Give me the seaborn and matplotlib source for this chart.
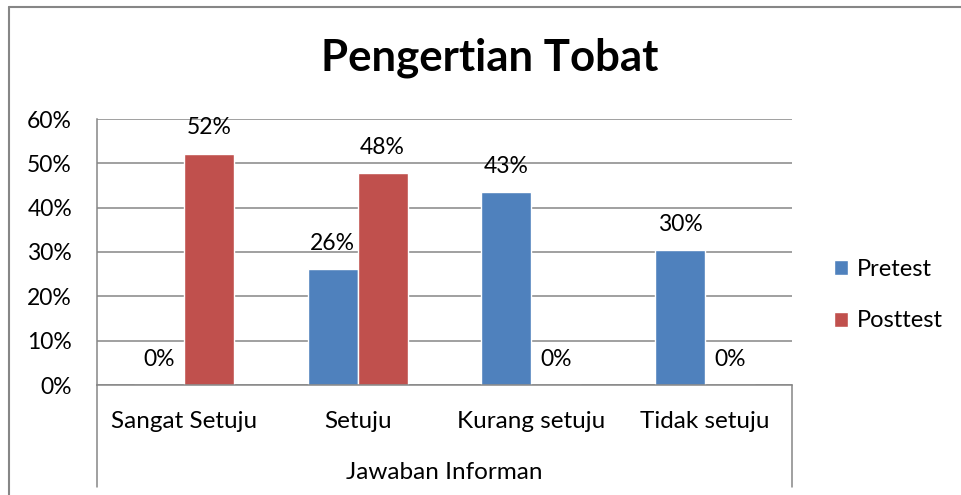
import matplotlib
matplotlib.use("Agg")
from matplotlib import pyplot as plt
from matplotlib.lines import Line2D
import pandas as pd
import seaborn as sns

# Data
categories = ["Sangat Setuju", "Setuju", "Kurang setuju", "Tidak setuju"]
pretest = [0.0, 0.2609, 0.4348, 0.3043]
posttest = [0.5217, 0.4783, 0.0, 0.0]
series_names = ["Pretest", "Posttest"]
y_ticks = [0.0, 0.1, 0.2, 0.3, 0.4, 0.5, 0.6]

colors = ["#4F81BD", "#C0504D"]
grid_color = "#868686"
font = ["Lato", "DejaVu Sans"]
fs = 16.5

# Long-form table for seaborn
df = pd.DataFrame({
    "kategori": categories * 2,
    "nilai": pretest + posttest,
    "seri": [series_names[0]] * len(categories) + [series_names[1]] * len(categories),
})

sns.set_theme(style="white")
plt.rcParams["font.family"] = font
plt.rcParams["text.color"] = "black"
plt.rcParams["xtick.color"] = "black"
plt.rcParams["ytick.color"] = "black"
plt.rcParams["axes.labelcolor"] = "black"

fig = plt.figure(figsize=(9.62, 4.95), dpi=100)
ax = fig.add_axes([97 / 962, 1 - 385 / 495, 695 / 962, 266 / 495])

sns.barplot(data=df, x="kategori", y="nilai", hue="seri", order=categories,
            hue_order=series_names, palette=colors, width=0.576,
            saturation=1, ax=ax, legend=True)

# Data labels above each bar
for container in ax.containers:
    ax.bar_label(container, labels=[f"{round(b.get_height() * 100)}%" for b in container],
                 padding=11, fontsize=fs, color="black")

ax.set_xlim(-0.5, 3.5)
ax.set_ylim(0, 0.6)
ax.set_yticks(y_ticks)
ax.set_yticklabels([f"{round(t * 100)}%" for t in y_ticks], fontsize=fs)
ax.tick_params(axis="y", length=0, pad=18)
ax.tick_params(axis="x", length=0, pad=19, labelsize=17.5)
ax.set_xlabel("Jawaban Informan", fontsize=17.5, labelpad=21)
ax.set_ylabel("")

# Gridlines and spines in Excel-like grey
ax.yaxis.grid(True, color=grid_color, linewidth=1.1)
ax.set_axisbelow(True)
for side in ["top", "right"]:
    ax.spines[side].set_visible(False)
for side in ["left", "bottom"]:
    ax.spines[side].set_color(grid_color)
    ax.spines[side].set_linewidth(1.1)

# Category box lines below the axis
ext = -(487 - 385) / 266
for xpos in [0, 1]:
    ax.add_line(Line2D([xpos, xpos], [0, ext], transform=ax.transAxes,
                       color=grid_color, linewidth=1.1, clip_on=False))

# Legend on the right
handles, labels = ax.get_legend_handles_labels()
ax.legend(handles, labels, loc="center left", bbox_to_anchor=(813 / 962, 1 - 295 / 495),
          bbox_transform=fig.transFigure, frameon=False, fontsize=17,
          handlelength=0.6, handleheight=0.6, handletextpad=0.35, labelspacing=1.3)

# Title
fig.text(490 / 962, 1 - 58 / 495, "Pengertian Tobat", ha="center", va="center",
         fontsize=31.5, fontweight="bold", color="black")

# Outer chart border (left and top only visible)
fig.add_artist(Line2D([9 / 962, 9 / 962], [0, 1 - 7 / 495], transform=fig.transFigure,
                      color=grid_color, linewidth=1.5))
fig.add_artist(Line2D([9 / 962, 1], [1 - 7 / 495, 1 - 7 / 495], transform=fig.transFigure,
                      color=grid_color, linewidth=1.5))

plt.savefig("out.png", dpi=100)
